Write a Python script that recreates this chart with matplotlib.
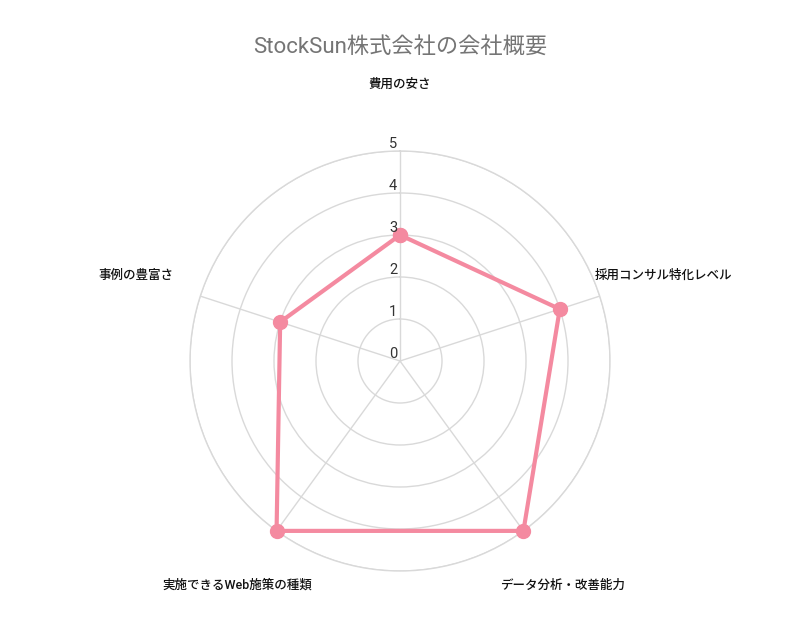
import numpy as np
import matplotlib
matplotlib.use("Agg")
import matplotlib.pyplot as plt

plt.rcParams['font.family'] = ['Noto Sans CJK JP', 'DejaVu Sans']

categories = ["費用の安さ", "採用コンサル特化レベル", "データ分析・改善能力", "実施できるWeb施策の種類", "事例の豊富さ"]
values = [3, 4, 5, 5, 3]
rticks = [0, 1, 2, 3, 4, 5]
title = "StockSun株式会社の会社概要"

line_color = "#F48AA0"
grid_color = "#D9D9D9"

fig = plt.figure(figsize=(8, 6.42), dpi=100)
ax = fig.add_axes([0.2375, 0.1106, 0.525, 0.6542], projection='polar')
ax.set_theta_zero_location('N')
ax.set_theta_direction(-1)

n = len(categories)
angles = np.linspace(0, 2 * np.pi, n, endpoint=False)
ax.set_ylim(0, 5)
ax.set_yticks(rticks)
ax.set_yticklabels([])
ax.set_xticks(angles)
ax.set_xticklabels([])
ax.grid(True, color=grid_color, linewidth=1)
ax.spines['polar'].set_color(grid_color)
ax.spines['polar'].set_linewidth(1)
ax.tick_params(length=0)

vals = list(values) + [values[0]]
angs = list(angles) + [angles[0]]
ax.plot(angs, vals, color=line_color, linewidth=3, marker='o', markersize=10,
        solid_joinstyle='miter', zorder=5, clip_on=False)

for t in rticks:
    ax.annotate(str(t), xy=(0, t), xytext=(-2, 0), textcoords='offset points',
                ha='right', va='bottom', fontsize=10.5, color='#333333', zorder=6,
                family=['Roboto', 'DejaVu Sans'])

for a, c in zip(angles, categories):
    ax.text(a, 5 * 1.32, c, ha='center', va='center', fontsize=9, color='#111111',
            fontweight='medium', family=['Roboto', 'Noto Sans CJK JP'])

fig.text(0.5, 1 - 47 / 642, title, ha='center', va='center', fontsize=16, color='#757575',
         family=['Roboto', 'Noto Sans CJK JP'])

fig.savefig("out.png", dpi=100, facecolor='white')
